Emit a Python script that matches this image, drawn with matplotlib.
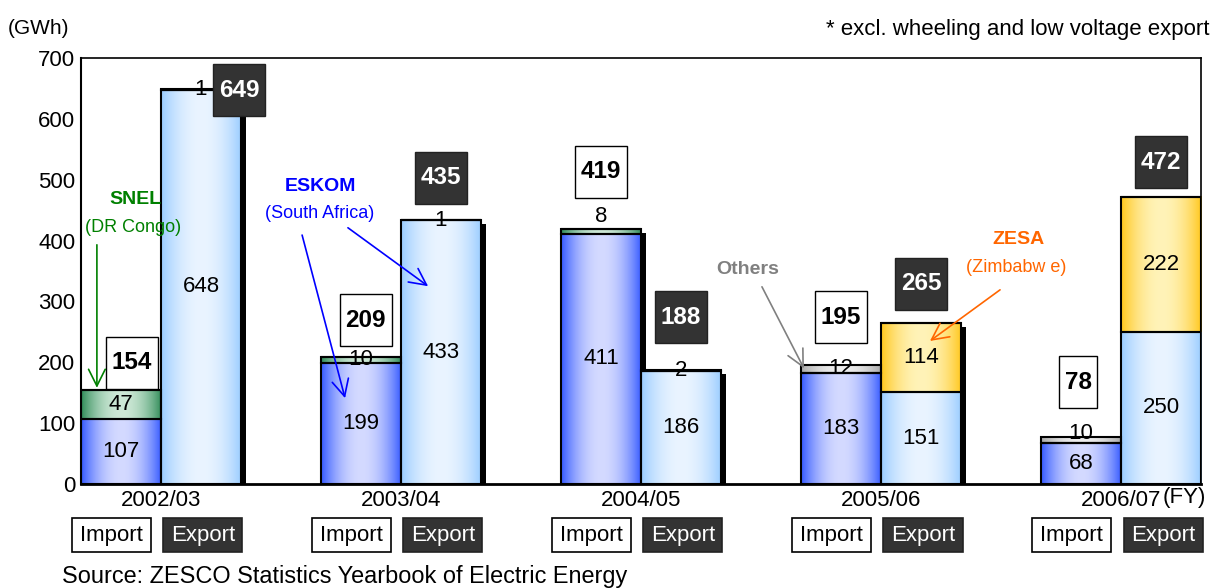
import numpy as np
import matplotlib
matplotlib.use('Agg')
import matplotlib.pyplot as plt
from matplotlib.colors import to_rgb
from matplotlib.patches import Rectangle
from matplotlib import transforms

plt.rcParams['font.family'] = ['Liberation Sans', 'DejaVu Sans']

# data (GWh)
years = ['2002/03', '2003/04', '2004/05', '2005/06', '2006/07']
imp_eskom = [107, 199, 411, 183, 68]
imp_snel = [47, 10, 8, 0, 0]
imp_others = [0, 0, 0, 12, 10]
imp_total = [154, 209, 419, 195, 78]
exp_eskom = [648, 433, 186, 151, 250]
exp_zesa = [0, 0, 0, 114, 222]
exp_others = [1, 1, 2, 0, 0]
exp_total = [649, 435, 188, 265, 472]

# layout of the total boxes: (dx from bar centre, y in GWh)
imp_box = [(0.046, 199), (0.02, 269), (0.0, 513), (0.0, 274), (-0.012, 167)]
exp_box = [(0.158, 647), (0.0, 503), (0.0, 274), (0.0, 329), (0.0, 529)]

fig = plt.figure(figsize=(12.14, 5.88), dpi=100)
ax = fig.add_axes([0.0667, 0.1769, 0.9226, 0.7245])

x = np.arange(len(years))
w = 1 / 3
xi = x - w / 2
xe = x + w / 2


def gradient(edge, mid, n=256):
    t = np.linspace(0, 1, n)
    k = 1 - np.abs(2 * t - 1) ** 2
    e = np.array(to_rgb(edge))
    m = np.array(to_rgb(mid))
    c = e[None, :] * (1 - k[:, None]) + m[None, :] * k[:, None]
    return c[None, :, :]


# shadows
shift = transforms.offset_copy(ax.transData, fig=fig, x=5, y=-4, units='dots')
sh = ax.bar(np.concatenate([xi, xe]),
            np.concatenate([np.add(np.add(imp_eskom, imp_snel), imp_others),
                            np.add(np.add(exp_eskom, exp_zesa), exp_others)]),
            w, color='black', zorder=1)
for p in sh:
    p.set_transform(shift)


def stack(xpos, series, colors, nudges):
    bottom = np.zeros(len(xpos))
    for j, (vals, (edge, mid)) in enumerate(zip(series, colors)):
        vals = np.array(vals, dtype=float)
        bars = ax.bar(xpos, vals, w, bottom=bottom, facecolor='none',
                      edgecolor='black', linewidth=1.5, zorder=3)
        for i, p in enumerate(bars):
            if vals[i] <= 0:
                continue
            x0, y0 = p.get_x(), p.get_y()
            ax.imshow(gradient(edge, mid), extent=(x0, x0 + w, y0, y0 + vals[i]),
                      aspect='auto', interpolation='bilinear', zorder=2)
            ax.text(xpos[i], y0 + vals[i] / 2 + nudges.get((j, i), 0),
                    f'{int(vals[i])}', ha='center', va='center',
                    fontsize=16, zorder=6)
        bottom += vals


stack(xi, [imp_eskom, imp_snel, imp_others],
      [('#3358FF', '#D4DAFF'), ('#2E8B57', '#CDE8D6'), ('#A8A8A8', '#EEEEEE')],
      {(1, 2): 25, (2, 4): 10})
stack(xe, [exp_eskom, exp_zesa, exp_others],
      [('#99CCFF', '#EAF4FF'), ('#FFC61A', '#FFF3B8'), ('#A8A8A8', '#EEEEEE')],
      {})


def total_box(xc, yc, label, dark):
    bw = (len(label) * 13.6 + 11) / 240
    bh = 52 / 0.6086
    ax.add_patch(Rectangle((xc - bw / 2, yc - bh / 2), bw, bh,
                           facecolor='#333333' if dark else 'white',
                           edgecolor='#222222' if dark else 'black',
                           linewidth=1, zorder=4))
    ax.text(xc, yc, label, ha='center', va='center', fontsize=17.5,
            fontweight='bold', color='white' if dark else 'black', zorder=5)


for i in range(len(years)):
    total_box(xi[i] + imp_box[i][0], imp_box[i][1], str(imp_total[i]), False)
    total_box(xe[i] + exp_box[i][0], exp_box[i][1], str(exp_total[i]), True)

# callouts
arrow = dict(arrowstyle='->,head_length=0.6,head_width=0.3', lw=1.2,
             shrinkA=0, shrinkB=0, mutation_scale=20)
ax.text(-0.108, 467, 'SNEL', color='#008000', fontsize=14, fontweight='bold',
        ha='center', va='center', zorder=7)
ax.text(-0.117, 422, '(DR Congo)', color='#008000', fontsize=13,
        ha='center', va='center', zorder=7)
ax.annotate('', xy=(-0.267, 158), xytext=(-0.267, 393),
            arrowprops=dict(arrow, color='#008000'), zorder=7)

ax.text(0.663, 488, 'ESKOM', color='#0000FF', fontsize=14, fontweight='bold',
        ha='center', va='center', zorder=7)
ax.text(0.663, 444, '(South Africa)', color='#0000FF', fontsize=13,
        ha='center', va='center', zorder=7)
ax.annotate('', xy=(0.767, 141), xytext=(0.588, 409),
            arrowprops=dict(arrow, color='#0000FF'), zorder=7)
ax.annotate('', xy=(1.113, 325), xytext=(0.779, 421),
            arrowprops=dict(arrow, color='#0000FF'), zorder=7)

ax.text(2.446, 352, 'Others', color='#808080', fontsize=14, fontweight='bold',
        ha='center', va='center', zorder=7)
ax.annotate('', xy=(2.679, 190), xytext=(2.504, 324),
            arrowprops=dict(arrow, color='#808080'), zorder=7)

ax.text(3.571, 401, 'ZESA', color='#FF6600', fontsize=14, fontweight='bold',
        ha='center', va='center', zorder=7)
ax.text(3.563, 355, '(Zimbabw e)', color='#FF6600', fontsize=13,
        ha='center', va='center', zorder=7)
ax.annotate('', xy=(3.204, 235), xytext=(3.496, 319),
            arrowprops=dict(arrow, color='#FF6600'), zorder=7)

# axes
ax.set_xlim(-w, len(years) - 1 + w)
ax.set_ylim(0, 700)
ax.set_yticks(range(0, 701, 100))
ax.set_xticks(x)
ax.set_xticklabels(years)
ax.tick_params(axis='both', length=0, labelsize=16)
ax.tick_params(axis='y', pad=4)
ax.tick_params(axis='x', pad=4)
for s in ['top', 'right']:
    ax.spines[s].set_linewidth(1.2)
ax.spines['left'].set_linewidth(1.5)
ax.spines['bottom'].set_linewidth(2)

ax.text(4.172, -23, '(FY)', fontsize=16, ha='left', va='center', clip_on=False)

# Import / Export keys under every year
kw, kh = 79 / 240, 34 / 0.6086
for i in range(len(years)):
    for dx, lab, dark in [(-0.206, 'Import', False), (0.175, 'Export', True)]:
        ax.add_patch(Rectangle((x[i] + dx - kw / 2, -84 - kh / 2), kw, kh,
                               facecolor='#333333' if dark else 'white',
                               edgecolor='#222222' if dark else 'black',
                               linewidth=1.2, clip_on=False, zorder=4))
        ax.text(x[i] + dx, -84, lab, fontsize=16, ha='center', va='center',
                color='white' if dark else 'black', clip_on=False, zorder=5)

fig.text(8 / 1214, 0.952, '(GWh)', fontsize=15, ha='left', va='center')
fig.text(1210 / 1214, 0.949, '* excl. wheeling and low voltage export',
         fontsize=16, ha='right', va='center')
fig.text(62 / 1214, 0.019, 'Source: ZESCO Statistics Yearbook of Electric Energy',
         fontsize=16.9, ha='left', va='center')

fig.savefig('out.png', dpi=100)
